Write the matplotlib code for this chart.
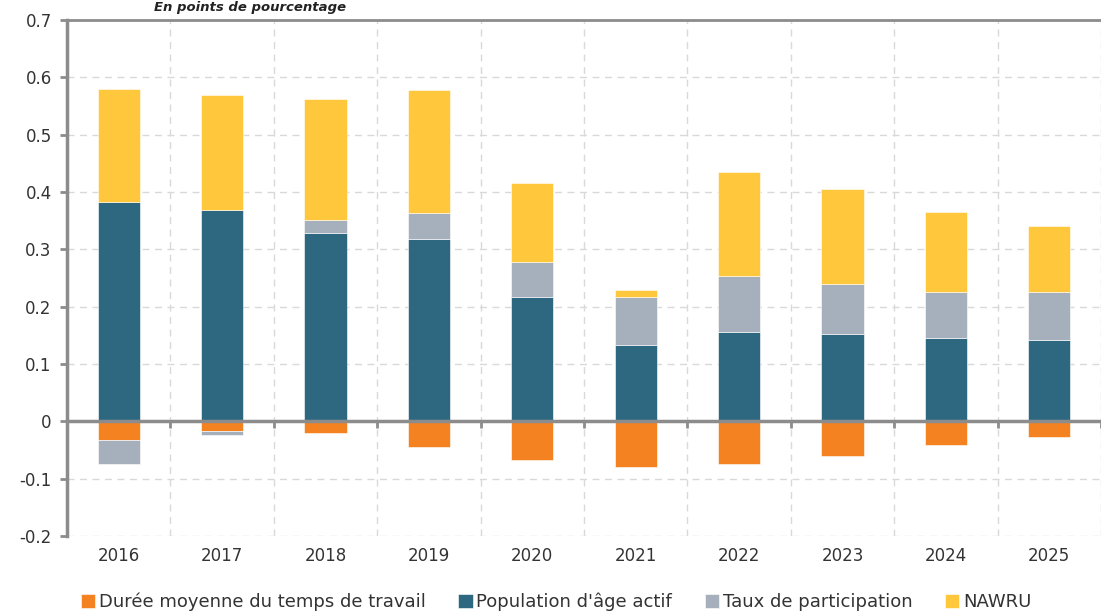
import matplotlib.pyplot as plt
import numpy as np

annees = ["2016", "2017", "2018", "2019", "2020", "2021", "2022", "2023", "2024", "2025"]
duree = [-0.033, -0.017, -0.021, -0.045, -0.068, -0.080, -0.075, -0.060, -0.042, -0.028]
population = [0.382, 0.368, 0.328, 0.318, 0.216, 0.133, 0.156, 0.152, 0.146, 0.141]
participation = [-0.042, -0.006, 0.023, 0.045, 0.062, 0.083, 0.097, 0.087, 0.079, 0.084]
nawru = [0.198, 0.201, 0.211, 0.215, 0.137, 0.013, 0.182, 0.166, 0.140, 0.115]

series = [
    ("Durée moyenne du temps de travail", duree, "#F58220"),
    ("Population d'âge actif", population, "#2E6880"),
    ("Taux de participation", participation, "#A6B0BD"),
    ("NAWRU", nawru, "#FFC73B"),
]

fig = plt.figure(figsize=(11.01, 6.13), dpi=100)
ax = fig.add_axes([67 / 1101, 1 - 536 / 613, 1 - 67 / 1101, (536 - 20) / 613])

x = np.arange(len(annees))
pos = np.zeros(len(annees))
neg = np.zeros(len(annees))
for nom, vals, col in series:
    v = np.array(vals)
    bas = np.where(v >= 0, pos, neg)
    ax.bar(x, v, 0.41, bottom=bas, color=col, label=nom,
           edgecolor="white", linewidth=0.4, zorder=3)
    pos = pos + np.where(v >= 0, v, 0)
    neg = neg + np.where(v < 0, v, 0)

ax.set_xlim(-0.5, len(annees) - 0.5)
ax.set_ylim(-0.2, 0.7)
ax.set_yticks(np.arange(-0.2, 0.71, 0.1))
ax.set_yticklabels(["-0.2", "-0.1", "0", "0.1", "0.2", "0.3", "0.4", "0.5", "0.6", "0.7"])
ax.set_xticks(x)
ax.set_xticklabels(annees)
ax.set_xticks(np.arange(-0.5, len(annees), 1), minor=True)
ax.tick_params(axis="x", which="both", length=0, labelsize=12, pad=8, colors="#333333")
ax.tick_params(axis="y", length=5, width=2, color="#8C8C8C", labelsize=12, labelcolor="#333333", pad=6)

ax.grid(axis="y", which="major", linestyle=(0, (5, 4)), color="#D9D9D9", linewidth=1, zorder=0)
ax.grid(axis="x", which="minor", linestyle=(0, (5, 4)), color="#D9D9D9", linewidth=1, zorder=0)

for s in ["right", "bottom"]:
    ax.spines[s].set_visible(False)
ax.spines["left"].set_color("#8C8C8C")
ax.spines["left"].set_linewidth(2.5)
ax.spines["top"].set_color("#8C8C8C")
ax.spines["top"].set_linewidth(2)

# axe du zero avec ses graduations
sec = ax.secondary_xaxis(0.2 / 0.9)
sec.set_xticks(np.arange(-0.5, len(annees), 1))
sec.set_xticklabels([])
sec.tick_params(length=5, width=2, color="#8C8C8C")
sec.spines["bottom"].set_color("#8C8C8C")
sec.spines["bottom"].set_linewidth(2.5)
sec.set_zorder(4)

fig.text(250 / 1101, 0.998, "En points de pourcentage", style="italic", weight="bold",
         fontsize=9.5, ha="center", va="top", color="#222222")

leg = fig.legend(loc="center", bbox_to_anchor=(0.505, 1 - 602 / 613), ncol=4, frameon=False,
                 handlelength=0.8, handleheight=0.8, handletextpad=0.2, columnspacing=1.8,
                 prop={"family": ["DejaVu Sans"], "size": 13})
for t in leg.get_texts():
    t.set_color("#333333")

fig.savefig("out.png", dpi=100)
